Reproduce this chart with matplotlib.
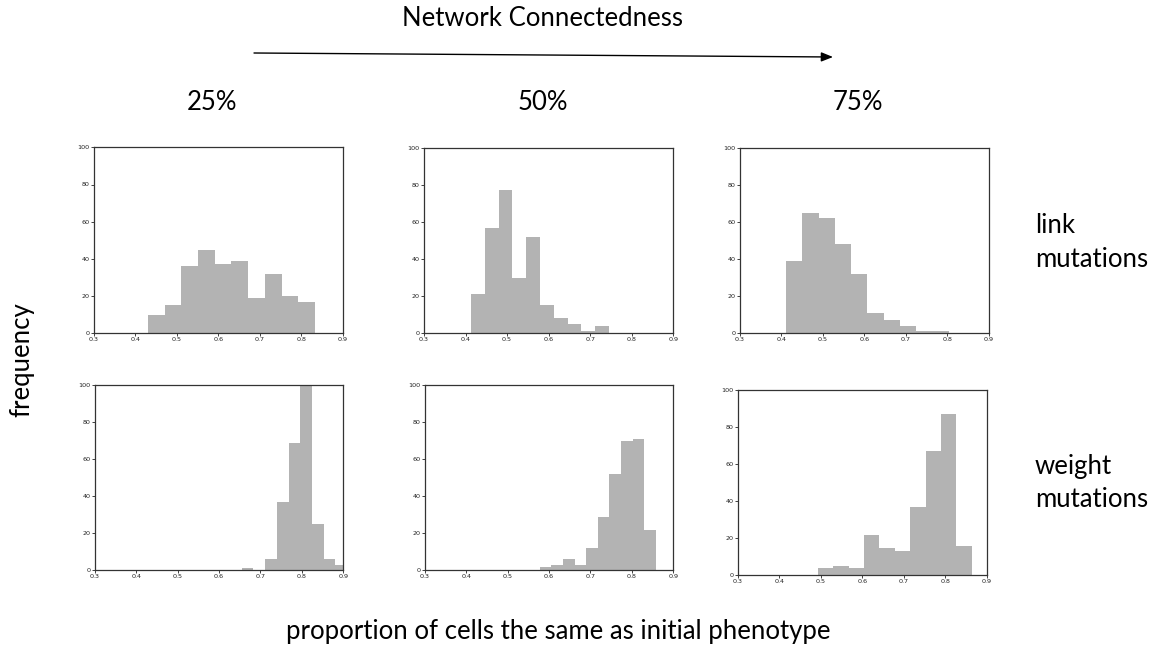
import numpy as np
import matplotlib
matplotlib.use("Agg")
import matplotlib.pyplot as plt

# histogram counts per panel, bins spread evenly between lo and hi
link_25 = [10, 15, 36, 45, 37, 39, 19, 32, 20, 17]
link_25_range = (0.430, 0.833)
link_50 = [21, 57, 77, 30, 52, 15, 8, 5, 1, 4]
link_50_range = (0.413, 0.745)
link_75 = [39, 65, 62, 48, 32, 11, 7, 4, 1, 1]
link_75_range = (0.4115, 0.8036)

weight_25 = [1, 0, 6, 37, 69, 100, 25, 6, 3]
weight_25_range = (0.655, 0.909)
weight_50 = [2, 3, 6, 3, 12, 29, 52, 70, 71, 22]
weight_50_range = (0.578, 0.8575)
weight_75 = [4, 5, 4, 22, 15, 13, 37, 67, 87, 16]
weight_75_range = (0.493, 0.863)

col_labels = ["25%", "50%", "75%"]
row_labels = ["link\nmutations", "weight\nmutations"]
x_ticks = [0.3, 0.4, 0.5, 0.6, 0.7, 0.8, 0.9]
y_ticks = [0, 20, 40, 60, 80, 100]

W, H = 1157, 650
fig = plt.figure(figsize=(W / 100, H / 100), dpi=100)
big_font = "Lato"
big_size = 18.5

def px_axes(x0, x1, y0, y1):
    return fig.add_axes([x0 / W, 1 - y1 / H, (x1 - x0) / W, (y1 - y0) / H])

panels = [
    (link_25, link_25_range, (94, 342.7, 147.3, 333.3)),
    (link_50, link_50_range, (424, 673.3, 147.7, 333.3)),
    (link_75, link_75_range, (739.7, 989, 147.7, 333.3)),
    (weight_25, weight_25_range, (94.7, 343.3, 385.3, 570.3)),
    (weight_50, weight_50_range, (424.7, 673.3, 385.3, 570.3)),
    (weight_75, weight_75_range, (737.7, 987, 390, 575.3)),
]

for counts, (lo, hi), box in panels:
    ax = px_axes(*box)
    edges = np.linspace(lo, hi, len(counts) + 1)
    ax.hist(edges[:-1], bins=edges, weights=counts, color="#b3b3b3")
    ax.set_xlim(0.3, 0.9)
    ax.set_ylim(0, 100)
    ax.set_xticks(x_ticks)
    ax.set_yticks(y_ticks)
    ax.tick_params(labelsize=4.6, length=2, width=0.6, pad=1, colors="#222222")
    for s in ax.spines.values():
        s.set_linewidth(0.9)
        s.set_color("#333333")

# header with arrow
fig.text(543 / W, 1 - 18 / H, "Network Connectedness", family=big_font,
         fontsize=big_size, ha="center", va="center")
fig.add_artist(matplotlib.patches.FancyArrowPatch(
    (254 / W, 1 - 53 / H), (833 / W, 1 - 57 / H), transform=fig.transFigure,
    arrowstyle="-|>,head_length=7,head_width=2.8", lw=1, color="black",
    shrinkA=0, shrinkB=0))

for x, lab in zip([212, 543, 858], col_labels):
    fig.text(x / W, 1 - 102 / H, lab, family=big_font, fontsize=big_size,
             ha="center", va="center")

for y, lab in zip([242.5, 483], row_labels):
    fig.text(1035 / W, 1 - y / H, lab, family=big_font, fontsize=big_size,
             ha="left", va="center", linespacing=1.42)

fig.text(22 / W, 1 - 360 / H, "frequency", family=big_font, fontsize=big_size,
         rotation=90, ha="center", va="center")
fig.text(558 / W, 1 - 632 / H, "proportion of cells the same as initial phenotype",
         family=big_font, fontsize=big_size, ha="center", va="center")

fig.savefig("out.png", dpi=100)
